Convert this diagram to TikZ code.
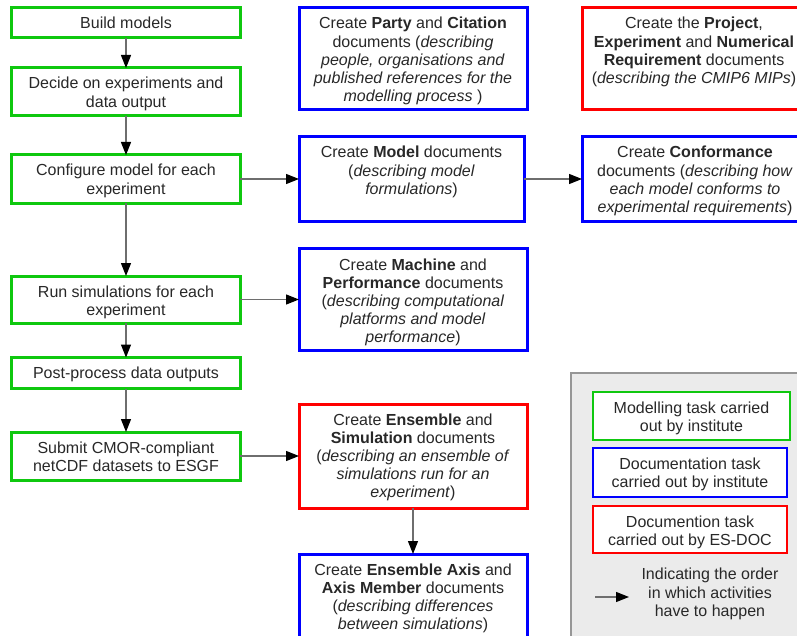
\documentclass[tikz,border=0pt]{standalone}
\usepackage{fontspec}
\setmainfont{Liberation Sans}
\usetikzlibrary{arrows.meta}
\definecolor{gbox}{RGB}{15,200,15}
\definecolor{bbox}{RGB}{0,0,255}
\definecolor{rbox}{RGB}{255,0,0}
\definecolor{txt}{RGB}{40,40,40}
\definecolor{lgfill}{RGB}{235,235,235}
\definecolor{lgline}{RGB}{150,150,150}
\definecolor{arr}{RGB}{110,110,110}
\newcommand\bx[3]{\parbox[c][#2][t]{#1}{\centering\rule{0pt}{21bp}#3}}
\tikzset{
  taskbox/.style={draw, line width=3bp, inner sep=0pt, outer sep=0pt, text=txt,
    font=\fontsize{16bp}{18.2bp}\selectfont},
  modbox/.style={taskbox, draw=gbox},
  docbox/.style={taskbox, draw=bbox},
  esbox/.style={taskbox, draw=rbox},
  lgbox/.style={line width=2.5bp},
  flow/.style={draw=arr, line width=1.3bp, -{Triangle[length=13bp,width=10bp,fill=black,color=black]}},
}
\begin{document}
\begin{tikzpicture}[x=1bp,y=-1bp]
\useasboundingbox (0,0) rectangle (797,636);
\clip (0,0) rectangle (797,636);
\fill[white] (0,0) rectangle (797,636);
% left column
\node[modbox] (build) at (126,23) {\bx{228bp}{30bp}{Build models}};
\node[modbox] (decide) at (126,92) {\bx{228bp}{48bp}{Decide on experiments and\\ data output}};
\node[modbox] (config) at (126,179) {\bx{228bp}{48bp}{Configure model for each\\ experiment}};
\node[modbox] (run) at (126,299.5) {\bx{228bp}{47bp}{Run simulations for each\\ experiment}};
\node[modbox] (post) at (126,373) {\bx{228bp}{31bp}{Post-process data outputs}};
\node[modbox] (submit) at (126,456) {\bx{228bp}{48bp}{Submit CMOR-compliant\\ netCDF datasets to ESGF}};
% middle column
\node[docbox] (party) at (413,59) {\bx{228bp}{102bp}{Create \textbf{Party} and \textbf{Citation}\\ documents (\textit{describing}\\ \textit{people, organisations and}\\ \textit{published references for the}\\ \textit{modelling process} )}};
\node[docbox] (model) at (411.5,179) {\bx{225bp}{84bp}{Create \textbf{Model} documents\\ (\textit{describing model}\\ \textit{formulations})}};
\node[docbox] (machine) at (413,299.5) {\bx{228bp}{101bp}{Create \textbf{Machine} and\\ \textbf{Performance} documents\\ (\textit{describing computational}\\ \textit{platforms and model}\\ \textit{performance})}};
\node[esbox] (ensemble) at (413,456) {\bx{228bp}{104bp}{Create \textbf{Ensemble} and\\ \textbf{Simulation} documents\\ (\textit{describing an ensemble of}\\ \textit{simulations run for an}\\ \textit{experiment})}};
\node[docbox] (axis) at (413,604) {\bx{228bp}{100bp}{Create \textbf{Ensemble Axis} and\\ \textbf{Axis Member} documents\\ (\textit{describing differences}\\ \textit{between simulations})}};
% right column
\node[esbox] (project) at (694,59) {\bx{224bp}{102bp}{Create the \textbf{Project},\\ \textbf{Experiment} and \textbf{Numerical}\\ \textbf{Requirement} documents\\ (\textit{describing the CMIP6 MIPs})}};
\node[docbox] (conform) at (695,179) {\bx{226bp}{84bp}{Create \textbf{Conformance}\\ documents (\textit{describing how}\\ \textit{each model conforms to}\\ \textit{experimental requirements})}};
% connectors
\draw[flow] (build) -- (decide);
\draw[flow] (decide) -- (config);
\draw[flow] (config) -- (run);
\draw[flow] (run) -- (post);
\draw[flow] (post) -- (submit);
\draw[flow] (config) -- (model);
\draw[flow] (model) -- (conform);
\draw[flow] (run) -- (machine);
\draw[flow] (submit) -- (ensemble);
\draw[flow] (ensemble) -- (axis);
% legend
\draw[fill=lgfill, draw=lgline, line width=1.5bp] (571,373) rectangle (820,660);
\node[modbox, lgbox, fill=white] (lg1) at (691.5,416) {\bx{197bp}{48bp}{Modelling task carried\\ out by institute}};
\node[docbox, lgbox, fill=white] (lg2) at (690,472.5) {\bx{194bp}{49bp}{Documentation task\\ carried out by institute}};
\node[esbox, lgbox, fill=white] (lg3) at (690,529.5) {\bx{194bp}{47bp}{Documention task\\ carried out by ES-DOC}};
\coordinate (la) at (595,597);
\coordinate (lb) at (629,597);
\draw[flow] (la) -- (lb);
\node[text=txt, align=center, font=\fontsize{16bp}{18.2bp}\selectfont, inner sep=0pt] (lgtext) at (710,594) {Indicating the order\\ in which activities\\ have to happen};
\end{tikzpicture}
\end{document}
